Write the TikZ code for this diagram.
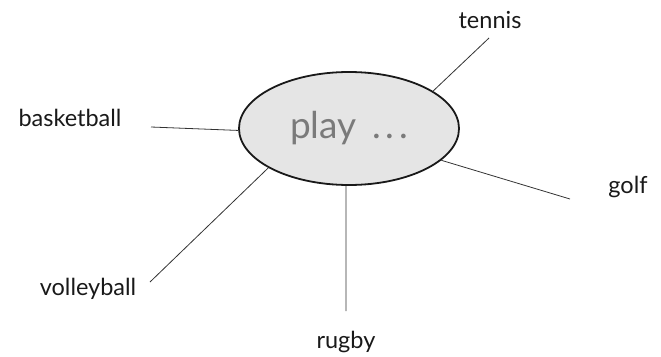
\documentclass[tikz,border=0pt]{standalone}
\usepackage{fontspec}
\setmainfont{Lato}
\usetikzlibrary{shapes.geometric}
\begin{document}
\begin{tikzpicture}[x=1pt,y=-1pt,
  hub/.style={ellipse,draw=black!90,line width=1.8pt,fill=black!10,
    minimum width=220pt,minimum height=113pt,inner sep=0pt,
    text=black!52,font=\fontsize{37}{40}\selectfont},
  lbl/.style={anchor=base,inner sep=0pt,text=black!90,font=\fontsize{23.5}{28}\selectfont},
  conn/.style={draw=black!80,line width=0.8pt}]
\useasboundingbox (0,0) rectangle (661,356);
\node[hub] (e) at (349,128.5) {play\ \,.\kern0.13em.\kern0.13em.};
\node[lbl] (tennis) at (490,28) {tennis};
\node[lbl] (basketball) at (70,126) {basketball};
\node[lbl] (golf) at (628,193) {golf};
\node[lbl] (volleyball) at (88,295) {volleyball};
\node[lbl] (rugby) at (346,348) {rugby};
\coordinate (tE) at (489,38);
\coordinate (bE) at (151,127);
\coordinate (gE) at (570,199);
\coordinate (vE) at (150,282);
\coordinate (rE) at (346,311);
\draw[conn] (e.24.9) -- (tE);
\draw[conn] (e.181.3) -- (bE);
\draw[conn] (e.-19.3) -- (gE);
\draw[conn] (e.206.8) -- (vE);
\draw[conn] (e.267) -- (rE);
\end{tikzpicture}
\end{document}
